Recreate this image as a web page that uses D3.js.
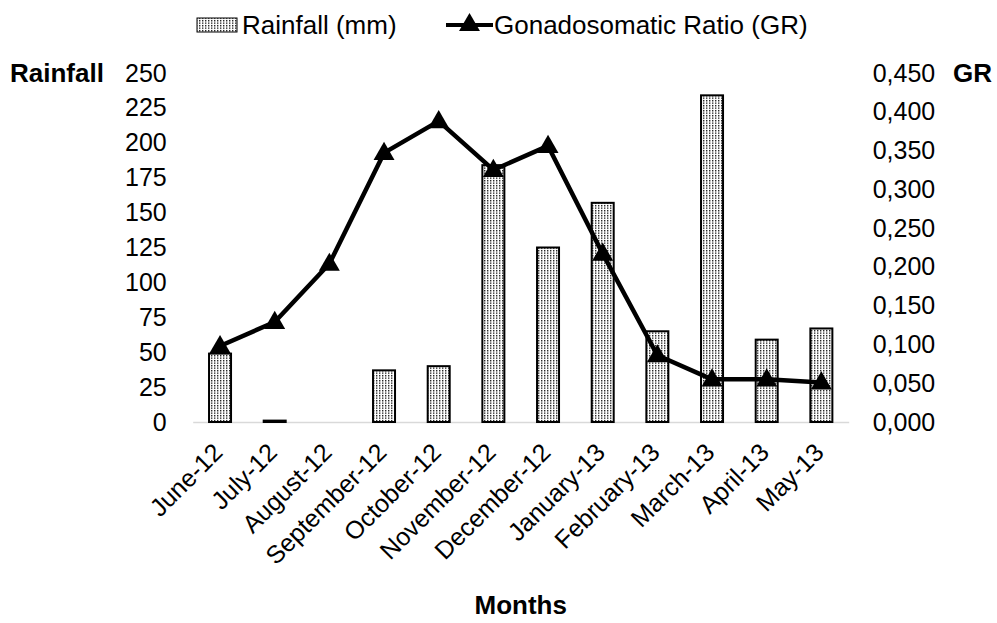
<!DOCTYPE html>
<html>
<head>
<meta charset="utf-8">
<script src="https://cdn.jsdelivr.net/npm/d3@7"></script>
<style>
  body { margin: 0; background: #fff; }
  svg text { font-family: "Liberation Sans", Arial, sans-serif; fill: #000; }
</style>
</head>
<body>
<svg id="chart" width="997" height="623"></svg>
<script>
const months = ["June-12","July-12","August-12","September-12","October-12","November-12",
  "December-12","January-13","February-13","March-13","April-13","May-13"]
const rainfall = [49, 1, 0, 37, 40, 184, 125, 157, 65, 234, 59, 67]
const gonadoRatio = [0.098, 0.129, 0.204, 0.347, 0.388, 0.325, 0.356, 0.217, 0.086, 0.055, 0.055, 0.051]
const rainTicks = [0, 25, 50, 75, 100, 125, 150, 175, 200, 225, 250]
const grTicks = [0, 0.05, 0.1, 0.15, 0.2, 0.25, 0.3, 0.35, 0.4, 0.45]

const svg = d3.select("#chart")
const plotL = 192.7, plotR = 848.7, plotT = 73, plotB = 422

// dotted fill for the rainfall bars
const defs = svg.append("defs")
const pat = defs.append("pattern").attr("id", "dots")
  .attr("patternUnits", "userSpaceOnUse").attr("width", 3).attr("height", 2.5)
pat.append("rect").attr("width", 3).attr("height", 2.5).attr("fill", "#fff")
pat.append("rect").attr("x", 1).attr("y", 0).attr("width", 1.4).attr("height", 1.4).attr("fill", "#222")

const x = d3.scaleBand().domain(months).range([plotL, plotR])
const yRain = d3.scaleLinear().domain([0, 250]).range([plotB, plotT])
const yGR = d3.scaleLinear().domain([0, 0.45]).range([plotB, plotT])
const commaFmt = d3.formatLocale({decimal: ",", thousands: ".", grouping: [3], currency: ["", ""]}).format(".3f")

const barW = 22

// x axis
const xAxis = svg.append("g").attr("transform", `translate(0,${plotB})`)
  .call(d3.axisBottom(x).tickSize(0))
xAxis.select(".domain").attr("stroke", "#d9d9d9").attr("stroke-width", 1.5)
xAxis.selectAll("text")
  .attr("y", 0).attr("dy", null)
  .attr("transform", "translate(4,32) rotate(-45)")
  .style("text-anchor", "end")
  .style("font-size", "25px")

// left axis
const yl = svg.append("g").attr("transform", `translate(${plotL},0)`)
  .call(d3.axisLeft(yRain).tickValues(rainTicks).tickSize(0).tickPadding(26))
yl.select(".domain").remove()
yl.selectAll("text").style("font-size", "25px")

// right axis
const yr = svg.append("g").attr("transform", `translate(${plotR},0)`)
  .call(d3.axisRight(yGR).tickValues(grTicks).tickSize(0).tickPadding(24).tickFormat(commaFmt))
yr.select(".domain").remove()
yr.selectAll("text").style("font-size", "25px")

// bars
svg.append("g").selectAll("rect").data(rainfall).join("rect")
  .attr("x", (d, i) => x(months[i]) + x.bandwidth() / 2 - barW / 2)
  .attr("y", d => yRain(d))
  .attr("width", barW)
  .attr("height", d => plotB - yRain(d))
  .attr("fill", "url(#dots)")
  .attr("stroke", d => d > 0 ? "#000" : "none")
  .attr("stroke-width", 2)

// GR line
const line = d3.line()
  .x((d, i) => x(months[i]) + x.bandwidth() / 2)
  .y(d => yGR(d))
svg.append("path").datum(gonadoRatio)
  .attr("d", line)
  .attr("fill", "none")
  .attr("stroke", "#000")
  .attr("stroke-width", 4.5)
  .attr("stroke-linejoin", "round")

const tri = d3.symbol().type(d3.symbolTriangle).size(190)
svg.append("g").selectAll("path").data(gonadoRatio).join("path")
  .attr("d", tri)
  .attr("transform", (d, i) => `translate(${x(months[i]) + x.bandwidth() / 2},${yGR(d) + 1})`)
  .attr("fill", "#000")

// axis titles
svg.append("text").attr("x", 10).attr("y", 82)
  .style("font-size", "26px").style("font-weight", "bold").text("Rainfall")
svg.append("text").attr("x", 953).attr("y", 82)
  .style("font-size", "26px").style("font-weight", "bold").text("GR")
svg.append("text").attr("x", (plotL + plotR) / 2).attr("y", 614)
  .attr("text-anchor", "middle")
  .style("font-size", "26px").style("font-weight", "bold").text("Months")

// legend
const legend = svg.append("g")
legend.append("rect").attr("x", 197).attr("y", 18).attr("width", 40).attr("height", 14)
  .attr("fill", "url(#dots)").attr("stroke", "#000").attr("stroke-width", 1)
legend.append("text").attr("x", 242).attr("y", 34).style("font-size", "26px").text("Rainfall (mm)")
legend.append("line").attr("x1", 446).attr("x2", 493).attr("y1", 25).attr("y2", 25)
  .attr("stroke", "#000").attr("stroke-width", 4)
legend.append("path").attr("d", tri).attr("transform", "translate(469.5,25)").attr("fill", "#000")
legend.append("text").attr("x", 494).attr("y", 34).style("font-size", "26px").text("Gonadosomatic Ratio (GR)")
</script>
</body>
</html>
